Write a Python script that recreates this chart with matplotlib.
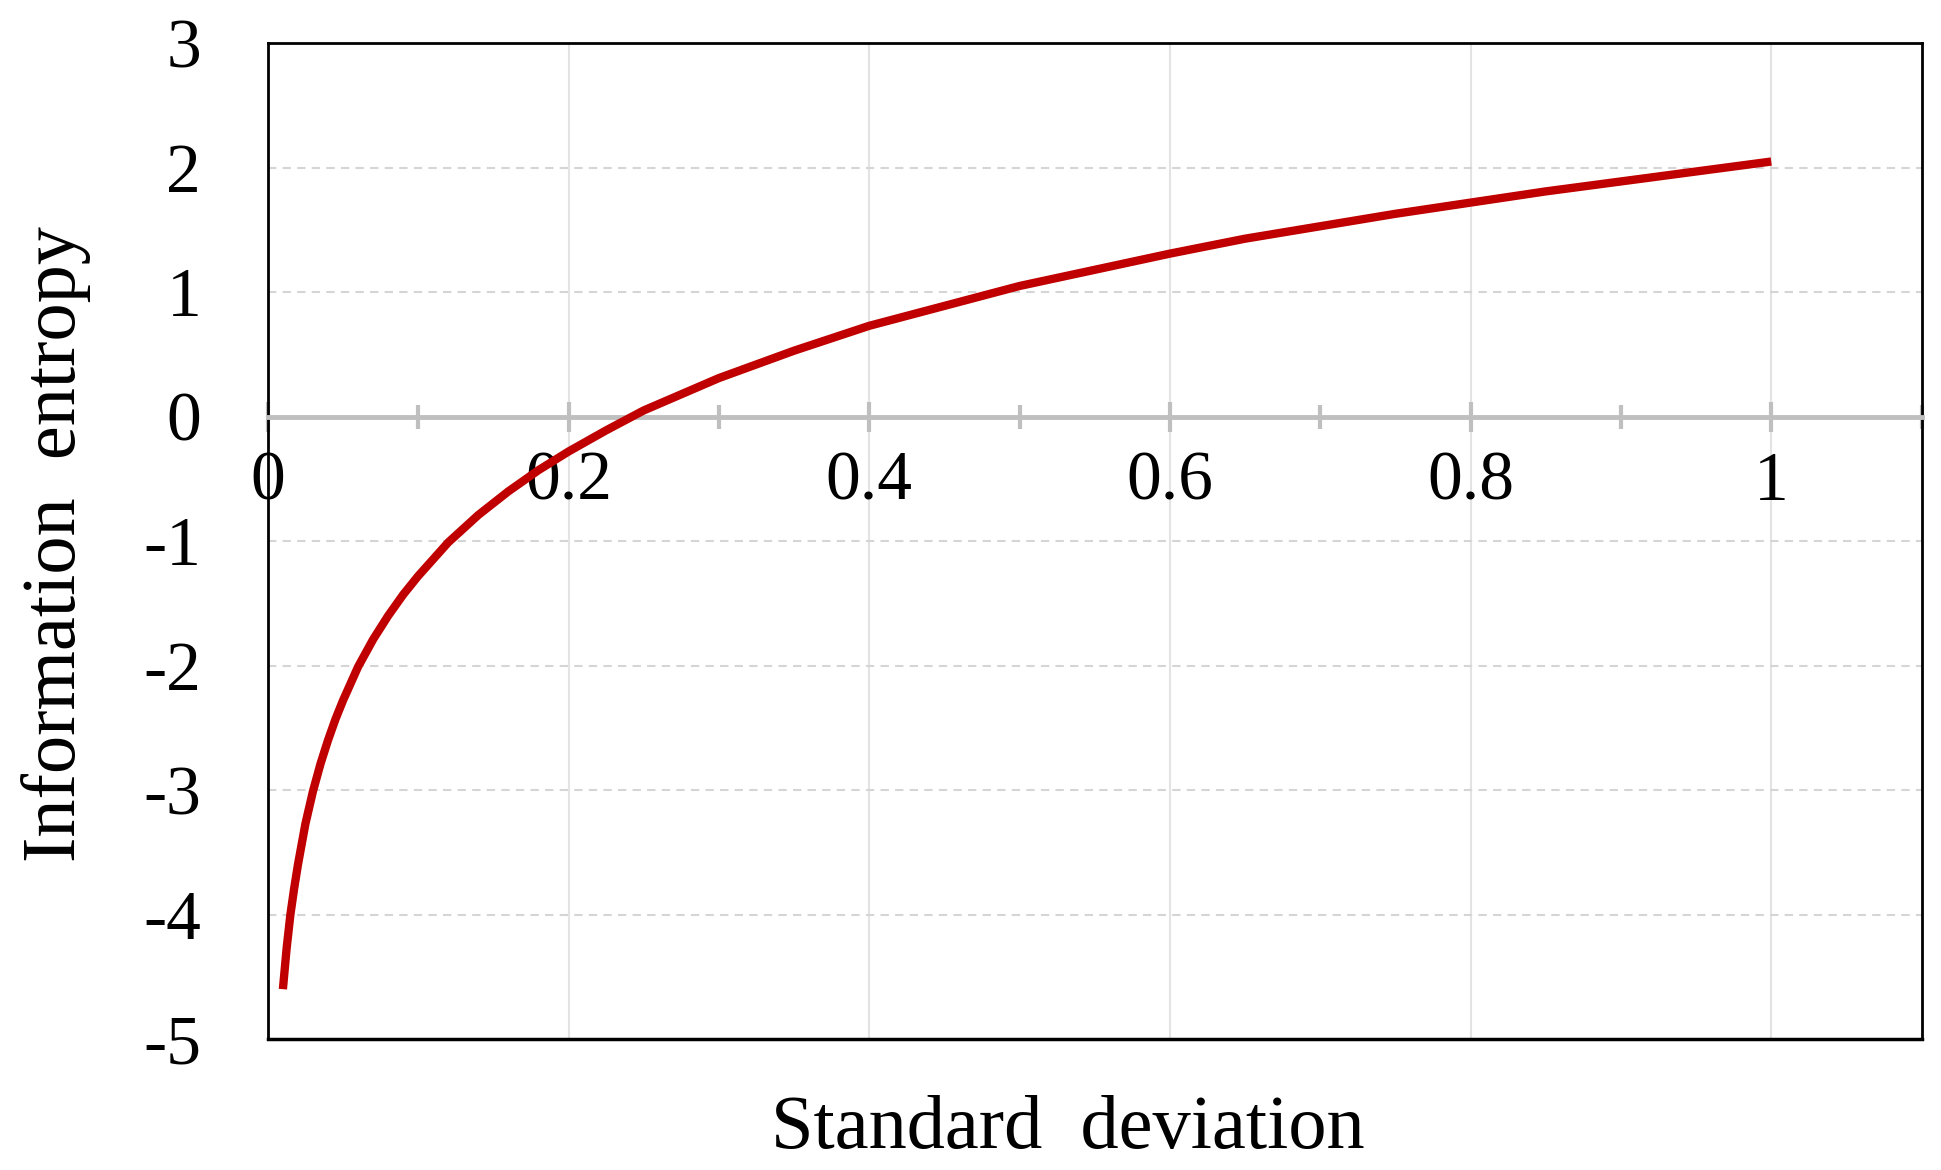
import numpy as np
import matplotlib.pyplot as plt

# values
std_dev = [0.01, 0.0125, 0.015, 0.0175, 0.02, 0.025, 0.03, 0.035, 0.04, 0.045,
           0.05, 0.06, 0.07, 0.08, 0.09, 0.1, 0.12, 0.14, 0.16, 0.18,
           0.2, 0.225, 0.25, 0.275, 0.3, 0.35, 0.4, 0.45, 0.5, 0.55,
           0.6, 0.65, 0.7, 0.75, 0.8, 0.85, 0.9, 0.95, 1.0]
entropy = [-4.6, -4.27, -4.0, -3.79, -3.6, -3.27, -3.01, -2.79, -2.6, -2.43,
           -2.28, -2.01, -1.79, -1.6, -1.43, -1.28, -1.01, -0.79, -0.6, -0.43,
           -0.28, -0.11, 0.05, 0.18, 0.31, 0.53, 0.73, 0.89, 1.05, 1.18,
           1.31, 1.43, 1.53, 1.63, 1.72, 1.81, 1.89, 1.97, 2.05]

x_ticks = [0, 0.2, 0.4, 0.6, 0.8, 1]
x_tick_labels = ["0", "0.2", "0.4", "0.6", "0.8", "1"]
y_ticks = [3, 2, 1, 0, -1, -2, -3, -4, -5]

plt.rcParams['font.family'] = ['Liberation Serif', 'DejaVu Serif']

fig = plt.figure(figsize=(19.41, 11.70), dpi=100)
ax = fig.add_axes([0.138, 0.112, 0.852, 0.851])

ax.set_xlim(0, 1.1)
ax.set_ylim(-5, 3)

# grid
for x in x_ticks[1:]:
    ax.axvline(x, color='#e3e3e3', lw=1.5, zorder=0)
for y in y_ticks:
    if y not in (3, -5, 0):
        ax.axhline(y, color='#d5d5d5', lw=1.5, ls=(0, (4, 3)), zorder=0)

ax.plot(std_dev, entropy, color='#c00000', lw=6, solid_capstyle='butt', zorder=4)

# frame
for s in ax.spines.values():
    s.set_color('black')
    s.set_linewidth(2)

# x axis runs through y = 0, frame bottom drawn separately
ax.spines['bottom'].set_position(('data', 0))
ax.spines['bottom'].set_color('#bfbfbf')
ax.spines['bottom'].set_linewidth(3.5)
ax.spines['bottom'].set_zorder(3)
ax.plot([0, 1], [0, 0], transform=ax.transAxes, color='black', lw=2.5,
        clip_on=False, zorder=5)

ax.set_xticks(x_ticks)
ax.set_xticklabels(x_tick_labels)
ax.set_xticks(np.arange(0.1, 1.2, 0.2), minor=True)
ax.tick_params(axis='x', which='major', direction='inout', length=22, width=3,
               color='#bfbfbf', labelsize=50, pad=14)
ax.tick_params(axis='x', which='minor', direction='inout', length=17, width=3,
               color='#bfbfbf')

ax.set_yticks(y_ticks)
ax.set_yticklabels([str(v) for v in y_ticks])
ax.tick_params(axis='y', length=0, pad=48, labelsize=50)

fig.text(0.55, 0.035, 'Standard  deviation', fontsize=55, ha='center', va='center')
fig.text(0.029, 0.535, 'Information  entropy', fontsize=55, ha='center', va='center',
         rotation=90)

fig.savefig('out.png', dpi=100)
